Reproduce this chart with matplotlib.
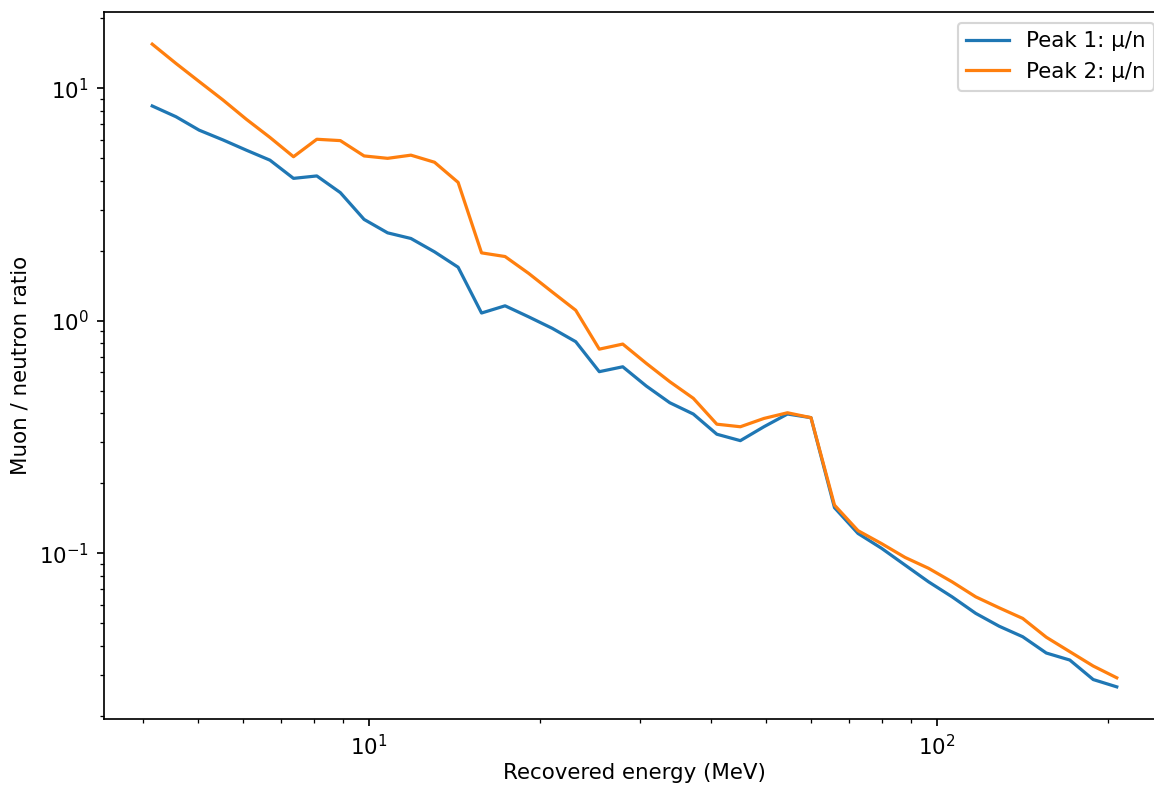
import matplotlib
matplotlib.use("Agg")
import matplotlib.pyplot as plt

# energy bin centres (MeV)
energia = [4.15, 4.57, 5.02, 5.53, 6.08, 6.69, 7.36, 8.09, 8.90, 9.80,
           10.78, 11.85, 13.04, 14.35, 15.78, 17.36, 19.10, 21.02, 23.12, 25.44,
           27.98, 30.78, 33.86, 37.25, 40.98, 45.08, 49.60, 54.57, 60.03, 66.04,
           72.65, 79.92, 87.92, 96.72, 106.4, 117.1, 128.8, 141.7, 155.9, 171.5,
           188.6, 207.5]

# Peak 1: muon / neutron ratio
pico1 = [8.40, 7.55, 6.61, 6.00, 5.42, 4.91, 4.10, 4.20, 3.56, 2.73,
         2.39, 2.26, 1.98, 1.70, 1.08, 1.16, 1.04, 0.928, 0.813, 0.604,
         0.634, 0.524, 0.444, 0.397, 0.325, 0.305, 0.350, 0.397, 0.383, 0.157,
         0.1216, 0.105, 0.0889, 0.0753, 0.0649, 0.0551, 0.0485, 0.0437, 0.0372, 0.0347,
         0.0286, 0.0266]

# Peak 2: muon / neutron ratio
pico2 = [15.5, 12.8, 10.7, 8.91, 7.36, 6.15, 5.08, 6.04, 5.96, 5.12,
         5.00, 5.16, 4.81, 3.94, 1.96, 1.89, 1.60, 1.33, 1.11, 0.755,
         0.794, 0.656, 0.547, 0.464, 0.359, 0.350, 0.380, 0.402, 0.383, 0.161,
         0.125, 0.110, 0.0959, 0.0861, 0.0753, 0.0649, 0.0582, 0.0524, 0.0435, 0.0377,
         0.0327, 0.0291]

rotulos = ["Peak 1: \u03bc/n", "Peak 2: \u03bc/n"]

DPI = 154
fig = plt.figure(figsize=(1154 / DPI, 786 / DPI), dpi=DPI)
# the axes run a little past the right edge of the image, as in the reference
ax = fig.add_axes([104 / 1154, 67 / 786, 1061 / 1154, 707 / 786])

ax.plot(energia, pico1, label=rotulos[0])
ax.plot(energia, pico2, label=rotulos[1])

ax.set_xscale("log")
ax.set_yscale("log")
ax.set_xlabel("Recovered energy (MeV)", labelpad=2)
ax.set_ylabel("Muon / neutron ratio")
ax.legend(loc="upper right")

fig.savefig("out.png", dpi=DPI)
